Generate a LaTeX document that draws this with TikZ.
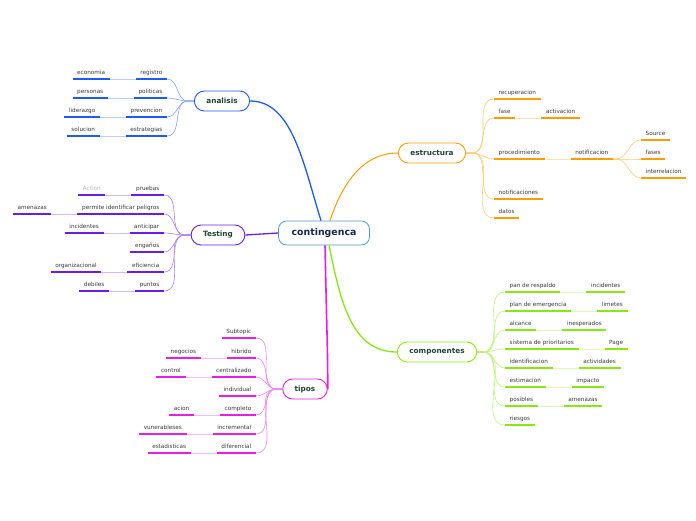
\documentclass[tikz,border=0pt]{standalone}
\usepackage{fontspec}
\setmainfont{DejaVu Sans}
\definecolor{mmblue}{HTML}{1A5CF5}
\definecolor{mmpurple}{HTML}{6A1CF0}
\definecolor{mmmagenta}{HTML}{E81EE8}
\definecolor{mmorange}{HTML}{FF9C00}
\definecolor{mmgreen}{HTML}{86EA10}
\definecolor{mmcentral}{HTML}{4A9AD8}
\definecolor{mmtopic}{HTML}{1E4434}
\definecolor{mmcenttext}{HTML}{16284A}
\definecolor{mmleaf}{HTML}{3A3A3A}
\tikzset{
  central/.style={draw=mmcentral, line width=0.8pt, fill=white, rounded corners=8pt,
    minimum height=24pt, inner xsep=13pt, font=\bfseries\fontsize{9.4}{10}\selectfont, text=mmcenttext},
  topic/.style={draw=#1, line width=0.9pt, fill=white, rounded corners=10pt,
    minimum height=20pt, inner xsep=12pt, font=\bfseries\fontsize{7.3}{8}\selectfont, text=mmtopic},
  leaf/.style={inner xsep=4.5pt, inner ysep=3pt, text height=4.4pt, text depth=1.3pt,
    font=\fontsize{5.7}{6}\selectfont, text=mmleaf},
  main/.style={draw=#1, line width=1.3pt},
  branch/.style={draw=#1!55, line width=0.6pt},
  link/.style={draw=#1!30, line width=0.8pt},
  uline/.style={draw=#1, line width=1.4pt},
}
\begin{document}
\begin{tikzpicture}[x=1pt, y=-1pt]
  \useasboundingbox (0,0) rectangle (696,520);

  % Topics
  \node[central] (cont) at (324,233) {contingenca};
  \node[topic=mmblue] (analisis) at (222,101) {analisis};
  \node[topic=mmpurple] (testing) at (218,235) {Testing};
  \node[topic=mmmagenta] (tipos) at (305,389) {tipos};
  \node[topic=mmorange] (estructura) at (432,153) {estructura};
  \node[topic=mmgreen] (componentes) at (437,352) {componentes};

  % Main connectors
  \draw[main=mmblue] ([xshift=-3]cont.north) .. controls +(-18,-58) and +(42,0) .. (analisis.east);
  \draw[main=mmorange, line width=1pt] ([xshift=6]cont.north) .. controls +(12,-36) and +(-36,0) .. (estructura.west);
  \draw[main=mmpurple] (cont.west) -- (testing.east);
  \draw[main=mmmagenta, line width=1.6pt] ([xshift=1]cont.south) .. controls +(2,95) and +(0,-40) .. (tipos.east);
  \draw[main=mmgreen] ([xshift=5]cont.south) .. controls +(12,58) and +(-45,0) .. (componentes.west);

  % analisis
  \node[leaf, anchor=south east] (registro) at (167,79) {registro};
  \node[leaf, anchor=south east] (politicas) at (167,98) {politicas};
  \node[leaf, anchor=south east] (prevencion) at (167,117) {prevencion};
  \node[leaf, anchor=south east] (estrategias) at (167,136) {estrategias};
  \node[leaf, anchor=south east] (economia) at ([xshift=-26]registro.south west) {economia};
  \node[leaf, anchor=south east] (personas) at ([xshift=-26]politicas.south west) {personas};
  \node[leaf, anchor=south east] (liderazgo) at ([xshift=-26]prevencion.south west) {liderazgo};
  \node[leaf, anchor=south east] (solucion) at ([xshift=-26]estrategias.south west) {solucion};

  \foreach \n in {registro,politicas,prevencion,estrategias}
    \draw[branch=mmblue] (analisis.west) -- ++(-6,0) to[out=180,in=0] (\n.south east);
  \foreach \a/\b in {registro/economia,politicas/personas,prevencion/liderazgo,estrategias/solucion}
    \draw[link=mmblue] (\a.south west) -- (\b.south east);
  \foreach \n in {registro,politicas,prevencion,estrategias,economia,personas,liderazgo,solucion}
    \draw[uline=mmblue] (\n.south west) -- (\n.south east);

  % Testing
  \node[leaf, anchor=south east] (pruebas) at (164,195) {pruebas};
  \node[leaf, anchor=south east] (permite) at (164,214) {permite identificar peligros};
  \node[leaf, anchor=south east] (anticipar) at (164,233) {anticipar};
  \node[leaf, anchor=south east] (enganos) at (164,252) {engaños};
  \node[leaf, anchor=south east] (eficiencia) at (164,272) {eficiencia};
  \node[leaf, anchor=south east] (puntos) at (164,291) {puntos};
  \node[leaf, anchor=south east, text=gray!55] (action) at ([xshift=-26]pruebas.south west) {Action};
  \node[leaf, anchor=south east] (amenazasT) at ([xshift=-26]permite.south west) {amenazas};
  \node[leaf, anchor=south east] (incidentesT) at ([xshift=-26]anticipar.south west) {incidentes};
  \node[leaf, anchor=south east] (organizacional) at ([xshift=-26]eficiencia.south west) {organizacional};
  \node[leaf, anchor=south east] (debiles) at ([xshift=-26]puntos.south west) {debiles};

  \foreach \n in {pruebas,permite,anticipar,enganos,eficiencia,puntos}
    \draw[branch=mmpurple] (testing.west) -- ++(-6,0) to[out=180,in=0] (\n.south east);
  \foreach \a/\b in {pruebas/action,permite/amenazasT,anticipar/incidentesT,eficiencia/organizacional,puntos/debiles}
    \draw[link=mmpurple] (\a.south west) -- (\b.south east);
  \foreach \n in {pruebas,permite,anticipar,enganos,eficiencia,puntos,action,amenazasT,incidentesT,organizacional,debiles}
    \draw[uline=mmpurple] (\n.south west) -- (\n.south east);

  % tipos
  \node[leaf, anchor=south east] (subtopic) at (256,338) {Subtopic};
  \node[leaf, anchor=south east] (hibrido) at (256,358) {hibrido};
  \node[leaf, anchor=south east] (centralizado) at (256,377) {centralizado};
  \node[leaf, anchor=south east] (individual) at (256,396) {individual};
  \node[leaf, anchor=south east] (completo) at (256,415) {completo};
  \node[leaf, anchor=south east] (incremental) at (256,434) {incremental};
  \node[leaf, anchor=south east] (diferencial) at (256,453) {diferencial};
  \node[leaf, anchor=south east] (negocios) at ([xshift=-26]hibrido.south west) {negocios};
  \node[leaf, anchor=south east] (control) at ([xshift=-26]centralizado.south west) {control};
  \node[leaf, anchor=south east] (acion) at ([xshift=-26]completo.south west) {acion};
  \node[leaf, anchor=south east] (vunerableses) at ([xshift=-26]incremental.south west) {vunerableses};
  \node[leaf, anchor=south east] (estadisticas) at ([xshift=-26]diferencial.south west) {estadisticas};

  \foreach \n in {subtopic,hibrido,centralizado,individual,completo,incremental,diferencial}
    \draw[branch=mmmagenta] (tipos.west) -- ++(-6,0) to[out=180,in=0] (\n.south east);
  \foreach \a/\b in {hibrido/negocios,centralizado/control,completo/acion,incremental/vunerableses,diferencial/estadisticas}
    \draw[link=mmmagenta] (\a.south west) -- (\b.south east);
  \foreach \n in {subtopic,hibrido,centralizado,individual,completo,incremental,diferencial,negocios,control,acion,vunerableses,estadisticas}
    \draw[uline=mmmagenta] (\n.south west) -- (\n.south east);

  % estructura
  \node[leaf, anchor=south west] (recuperacion) at (494,99) {recuperacion};
  \node[leaf, anchor=south west] (fase) at (494,118) {fase};
  \node[leaf, anchor=south west] (procedimiento) at (494,159) {procedimiento};
  \node[leaf, anchor=south west] (notificaciones) at (494,199) {notificaciones};
  \node[leaf, anchor=south west] (datos) at (494,218) {datos};
  \node[leaf, anchor=south west] (activacion) at ([xshift=26]fase.south east) {activacion};
  \node[leaf, anchor=south west] (notificacion) at ([xshift=26]procedimiento.south east) {notificacion};
  \node[leaf, anchor=south west] (source) at (641,140) {Source};
  \node[leaf, anchor=south west] (fases) at (641,159) {fases};
  \node[leaf, anchor=south west] (interrelacion) at (641,178) {interrelacion};

  \foreach \n in {recuperacion,fase,procedimiento,notificaciones,datos}
    \draw[branch=mmorange] (estructura.east) -- ++(6,0) to[out=0,in=180] (\n.south west);
  \foreach \n in {source,fases,interrelacion}
    \draw[branch=mmorange] (notificacion.south east) -- ++(3,0) to[out=0,in=180] (\n.south west);
  \foreach \a/\b in {fase/activacion,procedimiento/notificacion}
    \draw[link=mmorange] (\a.south east) -- (\b.south west);
  \foreach \n in {recuperacion,fase,procedimiento,notificaciones,datos,activacion,notificacion,source,fases,interrelacion}
    \draw[uline=mmorange] (\n.south west) -- (\n.south east);

  % componentes
  \node[leaf, anchor=south west] (respaldo) at (505,292) {pan de respaldo};
  \node[leaf, anchor=south west] (emergencia) at (505,311) {plan de emergencia};
  \node[leaf, anchor=south west] (alcance) at (505,330) {alcance};
  \node[leaf, anchor=south west] (prioritarios) at (505,349) {sistema de prioritarios};
  \node[leaf, anchor=south west] (identificacion) at (505,368) {identificacion};
  \node[leaf, anchor=south west] (estimacion) at (505,387) {estimacion};
  \node[leaf, anchor=south west] (posibles) at (505,406) {posibles};
  \node[leaf, anchor=south west] (riesgos) at (505,425) {riesgos};
  \node[leaf, anchor=south west] (incidentesC) at ([xshift=26]respaldo.south east) {incidentes};
  \node[leaf, anchor=south west] (limetes) at ([xshift=26]emergencia.south east) {limetes};
  \node[leaf, anchor=south west] (inesperados) at ([xshift=26]alcance.south east) {inesperados};
  \node[leaf, anchor=south west] (page) at ([xshift=26]prioritarios.south east) {Page};
  \node[leaf, anchor=south west] (actividades) at ([xshift=26]identificacion.south east) {actividades};
  \node[leaf, anchor=south west] (impacto) at ([xshift=26]estimacion.south east) {impacto};
  \node[leaf, anchor=south west] (amenazasC) at ([xshift=26]posibles.south east) {amenazas};

  \draw[main=mmgreen, line width=1.6pt] (componentes.east) -- ++(6,0);
  \foreach \n in {respaldo,emergencia,alcance,prioritarios,identificacion,estimacion,posibles,riesgos}
    \draw[branch=mmgreen] (componentes.east) -- ++(6,0) to[out=0,in=180] (\n.south west);
  \foreach \a/\b in {respaldo/incidentesC,emergencia/limetes,alcance/inesperados,prioritarios/page,identificacion/actividades,estimacion/impacto,posibles/amenazasC}
    \draw[link=mmgreen] (\a.south east) -- (\b.south west);
  \foreach \n in {respaldo,emergencia,alcance,prioritarios,identificacion,estimacion,posibles,riesgos,incidentesC,limetes,inesperados,page,actividades,impacto,amenazasC}
    \draw[uline=mmgreen] (\n.south west) -- (\n.south east);
\end{tikzpicture}
\end{document}
